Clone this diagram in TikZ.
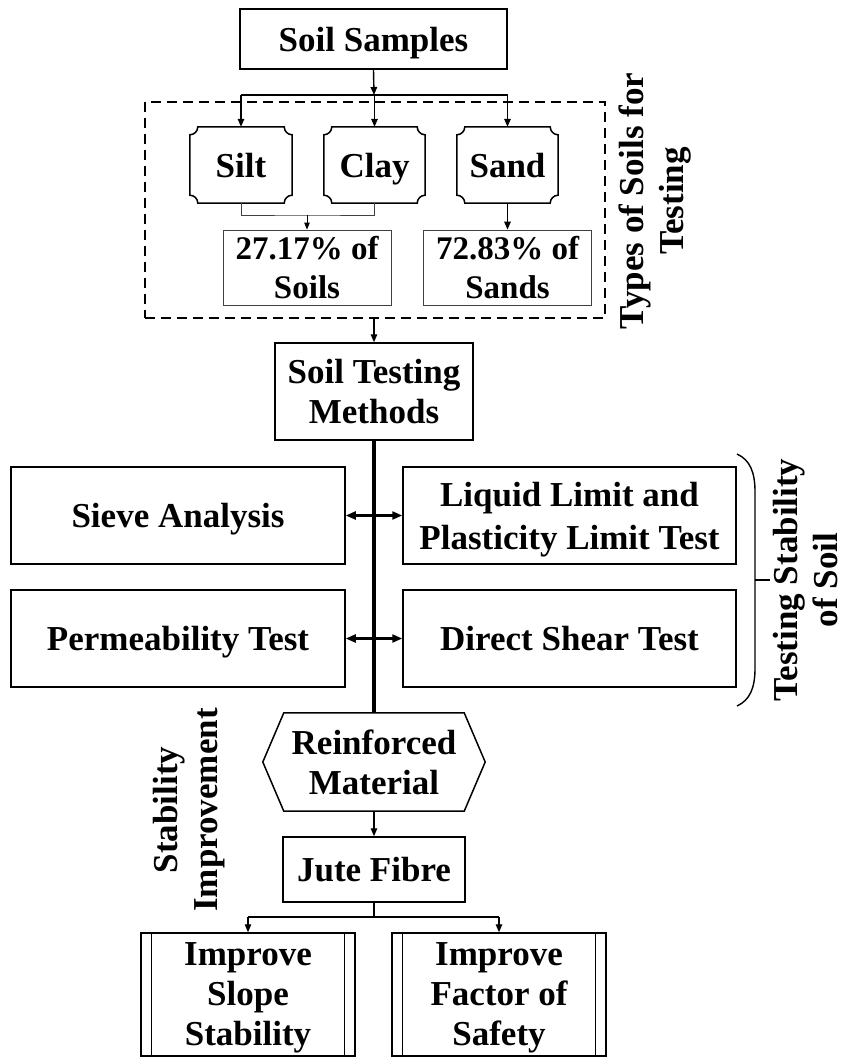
\documentclass[tikz,border=0pt]{standalone}
\usepackage{fontspec}
\setmainfont{Liberation Serif}
\usetikzlibrary{arrows.meta,calc}
\begin{document}
\begin{tikzpicture}[x=1pt,y=1pt,
  txt/.style={font=\fontsize{35}{40}\selectfont\bfseries, align=center, inner sep=0pt, text=black},
  box/.style={txt, draw=black, line width=1.5pt, text depth=0pt},
  thinbox/.style={txt, draw=black!75, line width=0.8pt, text depth=0pt, font=\fontsize{33}{39}\selectfont\bfseries},
  arr/.style={-{Triangle[length=8pt,width=6.5pt]}, line width=1.4pt},
  thinarr/.style={-{Triangle[length=7pt,width=5.5pt]}, line width=0.8pt},
  dbl/.style={{Triangle[length=10pt,width=8pt]}-{Triangle[length=10pt,width=8pt]}, line width=2.2pt},
  lbl/.style={txt, rotate=90}
]
\useasboundingbox (0,0) rectangle (845,-1057);

% top
\node[box, minimum width=267, minimum height=60] (ss) at (373.5,-39) {Soil Samples};

\node[draw=black, dashed, dash pattern=on 10pt off 6pt, line width=1.4pt, minimum width=460, minimum height=216, inner sep=0pt] (types) at (375,-210) {};
\node[lbl] (typeslbl) at (655,-201) {Types of Soils for\\Testing};

\node[txt, text depth=0pt, minimum width=102, minimum height=76] (silt) at (241,-165) {Silt};
\node[txt, text depth=0pt, minimum width=101, minimum height=76] (clay) at (374.5,-165) {Clay};
\node[txt, text depth=0pt, minimum width=101, minimum height=76] (sand) at (507.5,-165) {Sand};
\foreach \n in {silt,clay,sand} {
  \draw[line width=1.5pt] ($(\n.north west)+(8,0)$) -- ($(\n.north east)+(-8,0)$)
    arc[start angle=180,end angle=270,radius=8] -- ($(\n.south east)+(0,8)$)
    arc[start angle=90,end angle=180,radius=8] -- ($(\n.south west)+(8,0)$)
    arc[start angle=0,end angle=90,radius=8] -- ($(\n.north west)+(0,-8)$)
    arc[start angle=270,end angle=360,radius=8] -- cycle;
}

\node[thinbox, minimum width=168, minimum height=75] (p1) at (307,-267.5) {27.17\% of\\Soils};
\node[thinbox, minimum width=168, minimum height=75] (p2) at (507.5,-267.5) {72.83\% of\\Sands};

\coordinate (j1) at (374,-95);
\draw[arr] (ss.south) -- (j1);
\draw[line width=1.4pt] (silt.north |- j1) -- (sand.north |- j1);
\foreach \n in {silt,clay,sand} \draw[arr] (\n.north |- j1) -- (\n.north);

\coordinate (j2) at (307,-215);
\draw[black!75, line width=0.8pt] (silt.south) |- (j2) -| (clay.south);
\draw[thinarr] (j2) -- (p1.north);
\draw[arr] (sand.south) -- (p2.north);

% testing methods
\node[box, minimum width=198, minimum height=97] (stm) at (374,-391.5) {Soil Testing\\Methods};
\draw[arr] (types.south -| stm.north) -- (stm.north);

\node[box, minimum width=334, minimum height=97] (sieve) at (178,-515.5) {Sieve Analysis};
\node[box, minimum width=333, minimum height=97, font=\fontsize{35}{43}\selectfont\bfseries] (liquid) at (569.5,-515.5) {Liquid Limit and\\Plasticity Limit Test};
\node[box, minimum width=334, minimum height=97] (perm) at (178,-638.5) {Permeability Test};
\node[box, minimum width=333, minimum height=97] (shear) at (569.5,-638.5) {Direct Shear Test};

\draw[dbl] (sieve.east) -- (liquid.west);
\draw[dbl] (perm.east) -- (shear.west);

% brace
\draw[line width=1.4pt] (737,-454) .. controls (750,-460) and (755,-472) .. (755,-492)
  -- (755,-668) .. controls (755,-688) and (750,-700) .. (737,-706);
\coordinate (tick) at (770,-580);
\draw[line width=1.4pt] (755,-580) -- (tick);
\node[lbl] (testlbl) at (806,-580) {Testing Stability\\of Soil};

% reinforced
\node[txt, text depth=0pt, minimum width=180, minimum height=98] (rm) at (374,-762) {Reinforced\\Material};
\draw[line width=1.5pt] (rm.north west) -- (rm.north east) -- ($(rm.east)+(21,0)$)
  -- (rm.south east) -- (rm.south west) -- ($(rm.west)+(-21,0)$) -- cycle;
\draw[line width=3.4pt] (stm.south) -- (rm.north);

\node[lbl] (stablbl) at (189,-810) {Stability\\Improvement};

\node[box, minimum width=182, minimum height=65] (jute) at (374,-869.5) {Jute Fibre};
\draw[arr] (rm.south) -- (jute.north);

\node[box, minimum width=214, minimum height=123] (slope) at (248,-994.5) {Improve\\Slope\\Stability};
\node[box, minimum width=214, minimum height=123] (factor) at (499,-994.5) {Improve\\Factor of\\Safety};
\foreach \n in {slope,factor} {
  \draw[line width=1.1pt] ($(\n.north west)+(11,0)$) -- ($(\n.south west)+(11,0)$);
  \draw[line width=1.1pt] ($(\n.north east)+(-11,0)$) -- ($(\n.south east)+(-11,0)$);
}
\coordinate (j3) at (374,-917);
\draw[line width=1.4pt] (jute.south) -- (j3);
\draw[line width=1.4pt] (slope.north |- j3) -- (factor.north |- j3);
\draw[arr] (slope.north |- j3) -- (slope.north);
\draw[arr] (factor.north |- j3) -- (factor.north);
\end{tikzpicture}
\end{document}
